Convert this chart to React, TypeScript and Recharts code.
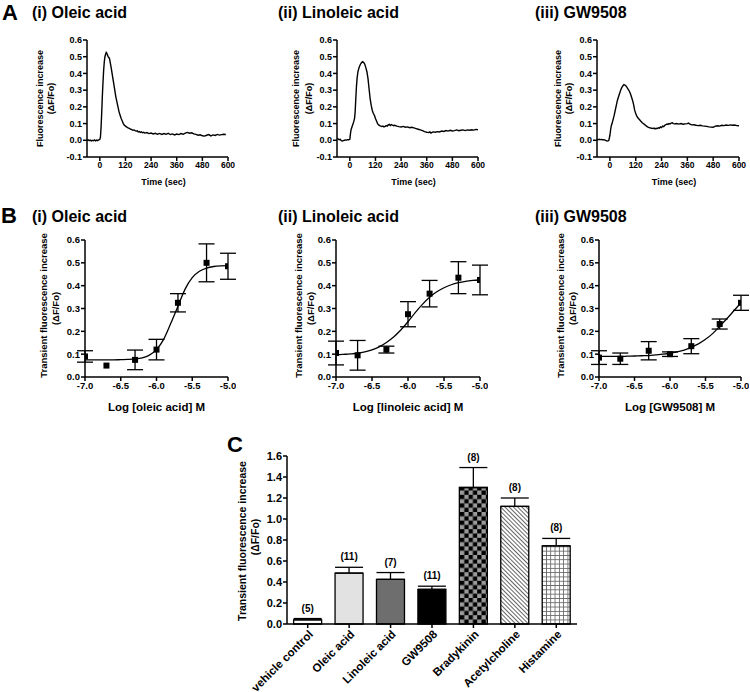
import React from 'react';
import {
  LineChart, Line, XAxis, YAxis, ComposedChart, Scatter, ErrorBar, Bar, Cell, LabelList,
} from 'recharts';

const FONT = '"Liberation Sans", Arial, Helvetica, sans-serif';

// ---------------- Panel A: traces (time sec, ΔF/Fo) ----------------
const oleicTrace: [number, number][] = [
  [-60, 0.0], [-55, 0.003], [-50, -0.002], [-45, 0.001], [-40, -0.004], [-35, 0.0], [-30, -0.003], [-25, 0.002],
  [-20, -0.003], [-15, 0.001], [-10, -0.002], [-5, 0.003], [0, 0.005], [3, 0.02], [6, 0.08], [9, 0.17], [12, 0.27],
  [15, 0.35], [18, 0.42], [21, 0.47], [24, 0.5], [27, 0.515], [30, 0.525], [33, 0.52], [36, 0.51], [39, 0.5],
  [42, 0.495], [45, 0.49], [48, 0.47], [51, 0.45], [55, 0.42], [60, 0.38], [65, 0.34], [70, 0.3], [75, 0.26],
  [80, 0.23], [85, 0.2], [90, 0.17], [95, 0.15], [100, 0.13], [105, 0.115], [110, 0.1], [115, 0.09], [120, 0.085],
  [125, 0.08], [130, 0.076], [135, 0.073], [140, 0.07], [145, 0.066], [150, 0.064], [155, 0.06], [160, 0.062],
  [165, 0.058], [170, 0.055], [175, 0.057], [180, 0.05], [185, 0.052], [190, 0.047], [195, 0.05], [200, 0.045],
  [205, 0.048], [210, 0.043], [220, 0.046], [230, 0.04], [240, 0.043], [250, 0.038], [260, 0.042], [270, 0.036],
  [280, 0.041], [290, 0.035], [300, 0.04], [310, 0.036], [320, 0.042], [330, 0.034], [340, 0.038], [350, 0.032],
  [360, 0.037], [370, 0.034], [380, 0.04], [390, 0.036], [400, 0.043], [410, 0.047], [420, 0.042], [430, 0.045],
  [440, 0.038], [450, 0.035], [460, 0.03], [470, 0.033], [480, 0.027], [490, 0.025], [500, 0.03], [510, 0.034],
  [520, 0.026], [530, 0.032], [540, 0.029], [550, 0.035], [560, 0.031], [570, 0.034], [580, 0.036], [590, 0.035],
];

const linoleicTrace: [number, number][] = [
  [-60, 0.01], [-55, 0.008], [-50, 0.004], [-45, 0.006], [-40, -0.002], [-35, -0.004], [-30, -0.002], [-25, 0.0],
  [-20, 0.002], [-15, 0.001], [-10, 0.004], [-5, 0.003], [0, 0.006], [3, 0.04], [6, 0.065], [10, 0.08], [14, 0.095],
  [18, 0.11], [22, 0.13], [25, 0.17], [28, 0.25], [31, 0.32], [34, 0.37], [38, 0.41], [42, 0.43], [46, 0.445],
  [50, 0.455], [55, 0.465], [60, 0.47], [65, 0.465], [70, 0.455], [75, 0.435], [80, 0.41], [85, 0.37], [90, 0.31],
  [95, 0.25], [100, 0.21], [105, 0.18], [110, 0.16], [115, 0.15], [120, 0.13], [125, 0.115], [130, 0.1],
  [135, 0.092], [140, 0.088], [145, 0.085], [150, 0.082], [155, 0.085], [160, 0.08], [165, 0.083], [170, 0.088],
  [175, 0.085], [180, 0.092], [185, 0.095], [190, 0.088], [195, 0.094], [200, 0.09], [205, 0.087], [210, 0.09],
  [220, 0.085], [230, 0.082], [240, 0.08], [250, 0.083], [260, 0.078], [270, 0.08], [280, 0.075], [290, 0.078],
  [300, 0.074], [310, 0.07], [320, 0.066], [330, 0.062], [340, 0.058], [350, 0.052], [360, 0.048], [370, 0.047],
  [375, 0.05], [380, 0.043], [385, 0.047], [390, 0.05], [400, 0.048], [410, 0.052], [420, 0.05], [430, 0.055],
  [440, 0.053], [450, 0.058], [460, 0.055], [470, 0.06], [480, 0.056], [490, 0.058], [500, 0.062], [510, 0.057],
  [520, 0.06], [530, 0.062], [540, 0.058], [550, 0.062], [560, 0.06], [570, 0.063], [580, 0.061], [590, 0.065],
  [600, 0.063],
];

const gwTrace: [number, number][] = [
  [-60, 0.005], [-55, 0.004], [-50, 0.006], [-45, 0.004], [-40, 0.005], [-35, 0.003], [-30, 0.004], [-25, 0.002],
  [-20, 0.0], [-15, -0.004], [-10, -0.005], [-5, 0.0], [0, 0.03], [3, 0.06], [6, 0.085], [10, 0.1], [15, 0.125],
  [20, 0.15], [25, 0.18], [30, 0.21], [35, 0.24], [40, 0.26], [45, 0.28], [50, 0.3], [55, 0.315], [60, 0.325],
  [65, 0.333], [70, 0.33], [75, 0.325], [80, 0.315], [85, 0.305], [90, 0.295], [95, 0.28], [100, 0.26],
  [105, 0.24], [110, 0.215], [115, 0.18], [120, 0.16], [125, 0.145], [130, 0.135], [135, 0.127], [140, 0.12],
  [145, 0.112], [150, 0.105], [155, 0.1], [160, 0.095], [165, 0.09], [170, 0.085], [175, 0.08], [180, 0.077],
  [185, 0.075], [190, 0.073], [195, 0.072], [200, 0.07], [205, 0.073], [210, 0.068], [215, 0.072], [220, 0.07],
  [225, 0.075], [230, 0.072], [235, 0.08], [240, 0.076], [245, 0.085], [250, 0.082], [255, 0.09], [260, 0.093],
  [265, 0.097], [270, 0.095], [275, 0.1], [280, 0.098], [285, 0.103], [290, 0.105], [295, 0.1], [300, 0.098],
  [310, 0.1], [320, 0.097], [330, 0.1], [340, 0.096], [350, 0.098], [360, 0.1], [365, 0.103], [370, 0.098],
  [380, 0.092], [390, 0.093], [400, 0.09], [410, 0.088], [420, 0.09], [430, 0.086], [440, 0.085], [450, 0.083],
  [460, 0.08], [470, 0.079], [480, 0.078], [490, 0.085], [500, 0.087], [510, 0.085], [520, 0.09], [530, 0.088],
  [540, 0.091], [550, 0.089], [560, 0.092], [570, 0.09], [580, 0.091], [590, 0.088], [600, 0.087],
];

const timeTicks = [0, 120, 240, 360, 480, 600];
const traceYTicks = [-0.1, 0, 0.1, 0.2, 0.3, 0.4, 0.5, 0.6];

// ---------------- Panel B: concentration-response ----------------
const logConc = [-7.0, -6.7, -6.3, -6.0, -5.7, -5.3, -5.0];
const oleicMean = [0.09, 0.05, 0.075, 0.12, 0.325, 0.5, 0.485];
const oleicSem = [0.025, null, 0.043, 0.045, 0.04, 0.083, 0.057];
const linoleicMean = [0.105, 0.095, 0.12, 0.275, 0.365, 0.435, 0.425];
const linoleicSem = [0.052, 0.065, 0.015, 0.055, 0.058, 0.07, 0.065];
const gwMean = [0.085, 0.08, 0.115, 0.1, 0.135, 0.232, 0.325];
const gwSem = [0.03, 0.025, 0.04, 0.01, 0.033, 0.022, 0.033];

const curveX = [-7.0, -6.9, -6.8, -6.7, -6.6, -6.5, -6.4, -6.3, -6.2, -6.1, -6.0, -5.9, -5.8, -5.7, -5.6, -5.5, -5.4, -5.3, -5.2, -5.1, -5.0];
const oleicCurve = [0.075, 0.075, 0.075, 0.075, 0.075, 0.076, 0.077, 0.079, 0.084, 0.096, 0.12, 0.165, 0.235, 0.31, 0.385, 0.435, 0.463, 0.477, 0.484, 0.487, 0.488];
const linoleicCurve = [0.097, 0.099, 0.101, 0.104, 0.11, 0.119, 0.132, 0.151, 0.175, 0.206, 0.242, 0.282, 0.318, 0.349, 0.373, 0.391, 0.404, 0.413, 0.419, 0.423, 0.426];
const gwCurve = [0.09, 0.09, 0.09, 0.09, 0.091, 0.092, 0.093, 0.094, 0.097, 0.1, 0.104, 0.11, 0.118, 0.13, 0.145, 0.165, 0.19, 0.222, 0.255, 0.29, 0.325];

const doseXTicks = [-7.0, -6.5, -6.0, -5.5, -5.0];
const doseYTicks = [0, 0.1, 0.2, 0.3, 0.4, 0.5, 0.6];

// ---------------- Panel C: bars ----------------
const barNames = ['vehicle control', 'Oleic acid', 'Linoleic acid', 'GW9508', 'Bradykinin', 'Acetylcholine', 'Histamine'];
const barMean = [0.04, 0.485, 0.425, 0.33, 1.3, 1.12, 0.745];
const barSem = [0.012, 0.055, 0.065, 0.03, 0.19, 0.08, 0.07];
const barN = [5, 11, 7, 11, 8, 8, 8];
const barYTicks = [0, 0.2, 0.4, 0.6, 0.8, 1.0, 1.2, 1.4, 1.6];

// ---------------- styles / layout ----------------
const barFills = ['#ffffff', '#e2e2e2', '#6e6e6e', '#000000', 'url(#checker)', 'url(#diag)', 'url(#grid)'];
const axisStroke = { stroke: '#000', strokeWidth: 1.5 };
const tickStyle = (size: number) => ({ fontSize: size, fontWeight: 700, fill: '#000', fontFamily: FONT });
const fmt1 = (v: number) => (Math.abs(v) < 1e-9 ? '0.0' : v.toFixed(1));

type Box = { left: number; right: number; top: number; bottom: number };

const traceBoxes: Box[] = [
  { left: 87, right: 228, top: 40, bottom: 157 },
  { left: 337, right: 478, top: 40, bottom: 157 },
  { left: 597, right: 739, top: 40, bottom: 157 },
];
const doseBoxes: Box[] = [
  { left: 85, right: 228, top: 240, bottom: 377 },
  { left: 336, right: 480, top: 240, bottom: 377 },
  { left: 599, right: 741, top: 240, bottom: 377 },
];
const barBox: Box = { left: 287, right: 577, top: 456, bottom: 624 };

const YW = 34;
const MT = 6;
const MR = 8;
const XH = 22;

function TraceChart({ box, trace }: { box: Box; trace: [number, number][] }) {
  const data = trace.map(([t, v]) => ({ t, v }));
  const width = box.right - box.left + YW + MR;
  const height = box.bottom - box.top + MT + XH;
  return (
    <div style={{ position: 'absolute', left: box.left - YW, top: box.top - MT }}>
      <LineChart width={width} height={height} data={data} margin={{ top: MT, right: MR, bottom: 0, left: 0 }}>
        <XAxis type="number" dataKey="t" domain={[-60, 600]} ticks={timeTicks} interval={0} allowDataOverflow
          height={XH} tick={tickStyle(8.5)} tickLine={axisStroke} axisLine={axisStroke} tickSize={4} tickMargin={1} />
        <YAxis type="number" domain={[-0.1, 0.6]} ticks={traceYTicks} interval={0} allowDataOverflow width={YW}
          tick={tickStyle(9)} tickLine={axisStroke} axisLine={axisStroke} tickSize={4} tickMargin={1} tickFormatter={fmt1} />
        <Line type="linear" dataKey="v" stroke="#000" strokeWidth={1.4} dot={false} isAnimationActive={false} />
      </LineChart>
    </div>
  );
}

const Square = (p: any) => (p.cx == null ? <g /> : <rect x={p.cx - 3} y={p.cy - 3} width={6} height={6} fill="#000" />);

function DoseChart({ box, mean, sem, curve }: { box: Box; mean: number[]; sem: (number | null)[]; curve: number[] }) {
  const points = logConc.map((x, i) => ({ x, y: mean[i], e: sem[i] }));
  const line = curveX.map((x, i) => ({ x, y: curve[i] }));
  const width = box.right - box.left + YW + MR;
  const height = box.bottom - box.top + MT + XH;
  return (
    <div style={{ position: 'absolute', left: box.left - YW, top: box.top - MT }}>
      <ComposedChart width={width} height={height} margin={{ top: MT, right: MR, bottom: 0, left: 0 }}>
        <XAxis type="number" dataKey="x" domain={[-7, -5]} ticks={doseXTicks} interval={0} allowDataOverflow
          height={XH} tick={tickStyle(9.5)} tickLine={axisStroke} axisLine={axisStroke} tickSize={4} tickMargin={1} tickFormatter={fmt1} />
        <YAxis type="number" dataKey="y" domain={[0, 0.6]} ticks={doseYTicks} interval={0} allowDataOverflow width={YW}
          tick={tickStyle(9.5)} tickLine={axisStroke} axisLine={axisStroke} tickSize={4} tickMargin={1} tickFormatter={fmt1} />
        <Line data={line} type="monotone" dataKey="y" stroke="#000" strokeWidth={1.3} dot={false} activeDot={false} isAnimationActive={false} />
        <Scatter data={points} dataKey="y" shape={Square} isAnimationActive={false}>
          <ErrorBar dataKey="e" direction="y" width={8} stroke="#000" strokeWidth={1.3} />
        </Scatter>
      </ComposedChart>
    </div>
  );
}

const RotTick = (p: any) => {
  const { x, y, payload } = p;
  const ax = x + 6;
  const ay = y + 5;
  return (
    <text x={ax} y={ay} transform={`rotate(-45 ${ax} ${ay})`} textAnchor="end"
      style={{ fontSize: 11.5, fontWeight: 700, fontFamily: FONT }} fill="#000">
      {payload.value}
    </text>
  );
};

function BarPanel() {
  const data = barNames.map((name, i) => ({ name, mean: barMean[i], err: [0, barSem[i]], top: barMean[i] + barSem[i], n: `(${barN[i]})` }));
  const CYW = 42;
  const CXH = 692 - barBox.bottom;
  const width = barBox.right - barBox.left + CYW + 6;
  const height = barBox.bottom - barBox.top + 30 + CXH;
  return (
    <div style={{ position: 'absolute', left: barBox.left - CYW, top: barBox.top - 30 }}>
      <ComposedChart width={width} height={height} data={data} margin={{ top: 30, right: 6, bottom: 0, left: 0 }} barCategoryGap="16%">
        <defs>
          <pattern id="checker" width="8.6" height="8.6" patternUnits="userSpaceOnUse">
            <rect width="8.6" height="8.6" fill="#9a9a9a" />
            <rect width="4.3" height="4.3" fill="#000" />
            <rect x="4.3" y="4.3" width="4.3" height="4.3" fill="#000" />
          </pattern>
          <pattern id="diag" width="3" height="3" patternUnits="userSpaceOnUse" patternTransform="rotate(-45)">
            <rect width="3" height="3" fill="#fff" />
            <line x1="0.5" y1="0" x2="0.5" y2="3" stroke="#666" strokeWidth="1" />
          </pattern>
          <pattern id="grid" width="4.3" height="4.3" patternUnits="userSpaceOnUse">
            <rect width="4.3" height="4.3" fill="#fff" />
            <path d="M0 0.4 H4.3 M0.4 0 V4.3" stroke="#666" strokeWidth="0.9" />
          </pattern>
        </defs>
        <XAxis dataKey="name" type="category" interval={0} height={CXH} tick={<RotTick />}
          tickLine={axisStroke} axisLine={axisStroke} tickSize={4} />
        <YAxis type="number" domain={[0, 1.6]} ticks={barYTicks} interval={0} width={CYW}
          tick={tickStyle(11)} tickLine={axisStroke} axisLine={axisStroke} tickSize={4} tickMargin={1} tickFormatter={fmt1} />
        <Bar dataKey="mean" stroke="#000" strokeWidth={1.3} isAnimationActive={false}>
          {data.map((d, i) => <Cell key={d.name} fill={barFills[i]} />)}
          <ErrorBar dataKey="err" direction="y" width={14} stroke="#000" strokeWidth={1.3} />
        </Bar>
        <Line dataKey="top" stroke="none" dot={false} activeDot={false} isAnimationActive={false}>
          <LabelList dataKey="n" position="top" offset={7} fill="#000"
            style={{ fontSize: 10, fontWeight: 700, fontFamily: FONT }} />
        </Line>
      </ComposedChart>
    </div>
  );
}

const T = (p: any) => <text fontFamily={FONT} fontWeight={700} fill="#000" {...p} />;
const VT = ({ x, y, size, children }: any) => (
  <text transform={`translate(${x},${y}) rotate(-90)`} textAnchor="middle" fontFamily={FONT} fontWeight={700} fontSize={size} fill="#000">{children}</text>
);

const traceTitles = ['(i) Oleic acid', '(ii) Linoleic acid', '(iii) GW9508'];
const doseXLabels = ['Log [oleic acid] M', 'Log [linoleic acid] M', 'Log [GW9508] M'];
const titleX = [32, 278, 535];
const aLabelX = [[42.5, 54], [299, 311.5], [560.5, 571.5]];
const bLabelX = [[47, 59], [302, 314], [564, 575.5]];

function Overlay() {
  return (
    <svg width={750} height={692} style={{ position: 'absolute', left: 0, top: 0, pointerEvents: 'none' }}>
      <T x={2} y={20} fontSize={22}>A</T>
      <T x={1} y={223} fontSize={22}>B</T>
      <T x={227} y={452} fontSize={22}>C</T>
      {traceTitles.map((t, i) => (
        <T key={'a' + i} x={titleX[i]} y={18} fontSize={16}>{t}</T>
      ))}
      {traceTitles.map((t, i) => (
        <T key={'b' + i} x={titleX[i]} y={222} fontSize={16}>{t}</T>
      ))}
      {traceBoxes.map((b, i) => (
        <g key={'al' + i}>
          <VT x={aLabelX[i][0]} y={(b.top + b.bottom) / 2} size={9}>Fluorescence increase</VT>
          <VT x={aLabelX[i][1]} y={(b.top + b.bottom) / 2} size={9}>(ΔF/Fo)</VT>
          <T x={(b.left + b.right) / 2 + 6} y={185} fontSize={9} textAnchor="middle">Time (sec)</T>
        </g>
      ))}
      {doseBoxes.map((b, i) => (
        <g key={'bl' + i}>
          <VT x={bLabelX[i][0]} y={(b.top + b.bottom) / 2 - 3} size={9.5}>Transient fluorescence increase</VT>
          <VT x={bLabelX[i][1]} y={(b.top + b.bottom) / 2} size={9.5}>(ΔF/Fo)</VT>
          <T x={(b.left + b.right) / 2} y={411} fontSize={11.5} textAnchor="middle">{doseXLabels[i]}</T>
        </g>
      ))}
      <VT x={246} y={541} size={10.5}>Transient fluorescence increase</VT>
      <VT x={259} y={537} size={10.5}>(ΔF/Fo)</VT>
    </svg>
  );
}

export default function App() {
  return (
    <div style={{ position: 'absolute', left: 0, top: 0, width: 750, height: 692, background: '#fff', overflow: 'hidden' }}>
      <TraceChart box={traceBoxes[0]} trace={oleicTrace} />
      <TraceChart box={traceBoxes[1]} trace={linoleicTrace} />
      <TraceChart box={traceBoxes[2]} trace={gwTrace} />
      <DoseChart box={doseBoxes[0]} mean={oleicMean} sem={oleicSem} curve={oleicCurve} />
      <DoseChart box={doseBoxes[1]} mean={linoleicMean} sem={linoleicSem} curve={linoleicCurve} />
      <DoseChart box={doseBoxes[2]} mean={gwMean} sem={gwSem} curve={gwCurve} />
      <BarPanel />
      <Overlay />
    </div>
  );
}
